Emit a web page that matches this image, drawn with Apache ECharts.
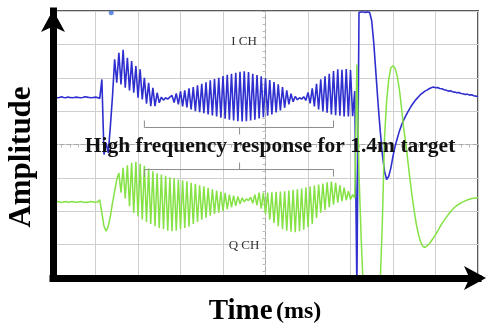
<!DOCTYPE html>
<html><head><meta charset="utf-8">
<script src="https://cdn.jsdelivr.net/npm/echarts@6/dist/echarts.min.js"></script>
<style>html,body{margin:0;padding:0;background:#fff}#c{width:488px;height:329px}</style>
</head><body><div id="c"></div>
<script>
// sample timing (divisions), 201 samples across the 10 horizontal divisions
const timeStart = -5;
const timeStep = 0.05;

// I channel (blue), amplitude in vertical divisions
const iChannel = [
1.41,1.42,1.40,1.41,1.43,1.41,1.40,1.42,1.41,1.40,1.41,1.42,1.41,1.40,1.41,1.43,1.42,1.41,1.40,1.41,1.42,1.41,
1.38,1.95,-0.30,0.05,-0.25,0.55,
1.45,2.55,1.85,2.75,1.80,2.84,1.70,2.60,1.62,2.50,1.55,2.35,1.40,2.25,1.35,2.00,1.22,1.85,1.15,1.70,1.15,1.55,1.25,1.42,1.33,1.40,1.36,1.42,
1.47,1.26,1.53,1.20,1.59,1.14,1.62,1.11,1.68,1.05,1.72,1.00,1.77,0.97,1.82,0.94,1.86,0.90,1.92,0.87,1.96,0.84,2.00,0.80,2.05,0.77,2.09,0.74,2.12,0.72,2.15,0.70,2.18,0.69,2.19,0.70,2.17,0.72,2.12,0.74,2.08,0.78,2.04,0.82,1.98,0.86,1.93,0.90,1.87,0.96,1.80,1.02,1.72,1.10,1.62,1.20,1.52,1.28,1.44,1.34,1.40,1.36,1.43,1.32,
1.56,1.23,1.68,1.14,1.82,1.05,1.95,0.99,2.04,0.95,2.12,0.90,2.20,0.88,2.25,0.86,2.24,0.84,2.26,0.84,2.23,0.85,
1.60,-4.30,
3.96,3.97,3.97,3.96,3.97,3.96,3.70,
3.00,2.10,1.20,0.40,-0.30,-0.80,-1.05,-0.95,-0.70,-0.35,
-0.05,0.18,0.40,0.58,0.73,0.86,0.98,1.09,1.19,1.28,1.36,1.43,1.50,1.55,1.60,1.63,1.67,1.70,1.72,
1.70,1.71,1.68,1.67,1.64,1.63,1.60,1.61,1.58,1.57,1.55,1.56,1.53,1.52,1.50,1.51,1.48,1.49,1.46,1.45,1.43
];

// Q channel (green)
const qChannel = [
-1.72,-1.73,-1.71,-1.72,-1.74,-1.72,-1.71,-1.73,-1.72,-1.71,-1.72,-1.73,-1.72,-1.71,-1.72,-1.74,-1.73,-1.72,-1.71,-1.72,-1.73,-1.72,
-1.66,-2.05,-2.45,-2.60,-2.45,-2.15,-1.75,-1.40,-1.05,
-0.85,-1.44,-0.70,-1.62,-0.62,-1.85,-0.55,-2.05,-0.52,-2.15,-0.58,-2.25,-0.64,-2.32,-0.72,-2.38,-0.80,-2.45,-0.86,-2.50,-0.90,-2.54,-0.94,-2.58,-0.98,-2.60,-1.02,-2.58,-1.05,-2.54,-1.07,-2.50,-1.10,-2.46,-1.15,-2.38,-1.18,-2.32,-1.22,-2.25,-1.25,-2.19,-1.30,-2.13,-1.34,-2.08,-1.38,-2.04,-1.41,-2.00,-1.45,-1.94,-1.50,-1.88,-1.53,-1.84,-1.56,-1.78,-1.60,-1.72,-1.63,-1.68,
-1.58,-1.76,-1.50,-1.82,-1.44,-1.92,-1.44,-2.08,-1.44,-2.25,-1.43,-2.35,-1.42,-2.45,-1.41,-2.54,-1.40,-2.58,-1.38,-2.61,-1.36,-2.63,-1.34,-2.60,-1.32,-2.55,-1.29,-2.48,-1.26,-2.38,-1.23,-2.20,-1.20,-2.04,-1.17,-1.96,-1.13,-1.88,-1.11,-1.80,-1.15,-1.74,-1.22,-1.70,-1.29,-1.67,-1.40,-1.65,-1.50,-1.60,
2.40,-0.87,-2.78,-4.30,
-4.60,-4.90,-5.20,-5.30,-5.20,-5.00,-4.70,
-4.10,
-2.30,0.20,1.30,1.95,2.30,2.36,2.28,2.05,1.65,1.10,
0.50,0.05,-0.50,-1.05,-1.55,-2.00,-2.40,-2.70,-2.92,-3.05,-3.08,-3.04,-2.98,-2.89,
-2.80,-2.70,-2.60,-2.48,-2.37,-2.28,-2.19,-2.10,-2.02,-1.95,-1.88,-1.83,-1.79,-1.75,-1.72,-1.69,-1.66,-1.64,-1.62,-1.61,-1.60,-1.59
];

// brackets marking the high-frequency region
const braceUpperT = [-2.85, -2.85, 1.60, 1.60];
const braceUpperA = [0.72, 0.51, 0.51, 0.72];
const braceUpperTickT = [-0.61, -0.61];
const braceUpperTickA = [0.51, 0.30];
const braceLowerT = [-2.85, -2.85, 1.60, 1.60];
const braceLowerA = [-0.96, -0.75, -0.75, -0.96];
const braceLowerTickT = [-0.61, -0.61];
const braceLowerTickA = [-0.75, -0.54];

const triggerMarker = [[-3.63, 3.95]];

const xMin = -5, xMax = 5, yMin = -4, yMax = 4;

function toPairs(vals) { return vals.map((v, i) => [+(timeStart + i * timeStep).toFixed(3), v]); }
function zip(a, b) { return a.map((v, i) => [v, b[i]]); }

const serif = "'Liberation Serif', 'Times New Roman', 'DejaVu Serif', serif";
const chart = echarts.init(document.getElementById('c'), null, { renderer: 'canvas' });

const gridLine = { show: true, lineStyle: { color: '#cfcfcf', width: 1 } };
const blackLine = { show: true, onZero: false, lineStyle: { color: '#000', width: 7, cap: 'square' } };

function braceSeries(t, a) {
  return { type: 'line', data: zip(t, a), symbol: 'none', lineStyle: { color: '#8c8c8c', width: 1 }, z: 4, silent: true };
}

chart.setOption({
  animation: false,
  backgroundColor: '#fff',
  grid: { left: 53, right: 10, top: 11, bottom: 51, show: true, borderColor: '#5a5a5a', borderWidth: 2, backgroundColor: 'transparent' },
  xAxis: [
    { type: 'value', min: xMin, max: xMax, interval: 1, position: 'bottom', axisLine: { show: false, onZero: false }, axisTick: { show: false }, axisLabel: { show: false }, splitLine: gridLine },
    { type: 'value', min: xMin, max: xMax, interval: 1, position: 'bottom', axisLine: { show: true, onZero: true, onZeroAxisIndex: 0, lineStyle: { color: '#a8a8a8', width: 1, type: [4, 3] } },
      axisTick: { show: true, length: 3, lineStyle: { color: '#aaa' } }, minorTick: { show: true, splitNumber: 5, length: 3, lineStyle: { color: '#bbb' } }, axisLabel: { show: false }, splitLine: { show: false } },
    { type: 'value', min: xMin, max: xMax, position: 'bottom', z: 10, axisLine: Object.assign({}, blackLine, { symbol: ['none', 'arrow'], symbolSize: [18, 22], symbolOffset: [0, 8] }),
      axisTick: { show: false }, axisLabel: { show: false }, splitLine: { show: false } }
  ],
  yAxis: [
    { type: 'value', min: yMin, max: yMax, interval: 1, position: 'left', axisLine: { show: false, onZero: false }, axisTick: { show: false }, axisLabel: { show: false }, splitLine: gridLine },
    { type: 'value', min: yMin, max: yMax, interval: 1, position: 'left', axisLine: { show: true, onZero: true, onZeroAxisIndex: 0, lineStyle: { color: '#a8a8a8', width: 1, type: [4, 3] } },
      axisTick: { show: true, length: 3, lineStyle: { color: '#aaa' } }, minorTick: { show: true, splitNumber: 5, length: 3, lineStyle: { color: '#bbb' } }, axisLabel: { show: false }, splitLine: { show: false } },
    { type: 'value', min: yMin, max: yMax, position: 'left', z: 10, axisLine: Object.assign({}, blackLine, { symbol: ['none', 'arrow'], symbolSize: [18, 22], symbolOffset: [0, 1] }),
      axisTick: { show: false }, axisLabel: { show: false }, splitLine: { show: false } }
  ],
  series: [
    { name: 'I CH', type: 'line', data: toPairs(iChannel), symbol: 'none', clip: true, lineStyle: { color: '#2f2fd0', width: 1.6 }, z: 3 },
    { name: 'Q CH', type: 'line', data: toPairs(qChannel), symbol: 'none', clip: true, lineStyle: { color: '#84e244', width: 1.5 }, z: 3 },
    braceSeries(braceUpperT, braceUpperA),
    braceSeries(braceUpperTickT, braceUpperTickA),
    braceSeries(braceLowerT, braceLowerA),
    braceSeries(braceLowerTickT, braceLowerTickA),
    { type: 'scatter', data: triggerMarker, symbolSize: 5, itemStyle: { color: '#3f6fd8' }, z: 4 }
  ],
  graphic: [
    { type: 'text', x: 22, y: 157, rotation: Math.PI / 2, z: 20,
      style: { text: 'Amplitude', font: 'bold 31px ' + serif, fill: '#000', textAlign: 'center', textVerticalAlign: 'middle' } },
    { type: 'text', x: 265, y: 312, z: 20,
      style: { text: '{a|Time} {b|(ms)}', textAlign: 'center', textVerticalAlign: 'middle',
        rich: { a: { fontFamily: serif, fontWeight: 'bold', fontSize: 29, color: '#000' }, b: { fontFamily: serif, fontWeight: 'bold', fontSize: 24, color: '#000' } } } },
    { type: 'text', x: 270, y: 146, z: 20,
      style: { text: 'High frequency response for 1.4m target', font: 'bold 21.5px ' + serif, fill: '#111', textAlign: 'center', textVerticalAlign: 'middle' } },
    { type: 'text', x: 244, y: 42, z: 20,
      style: { text: 'I CH', font: '13px ' + serif, fill: '#333', textAlign: 'center', textVerticalAlign: 'middle' } },
    { type: 'text', x: 244, y: 246, z: 20,
      style: { text: 'Q CH', font: '13px ' + serif, fill: '#333', textAlign: 'center', textVerticalAlign: 'middle' } }
  ]
});
</script>
</body></html>
